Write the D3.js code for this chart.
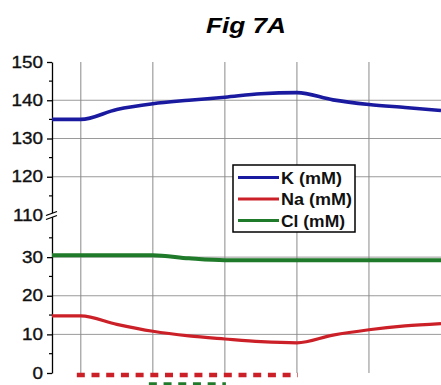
<!DOCTYPE html>
<html>
<head>
<meta charset="utf-8">
<script src="https://cdn.jsdelivr.net/npm/d3@7"></script>
<style>
  body { margin: 0; background: #fff; }
  svg { display: block; font-family: "Liberation Sans", Arial, sans-serif; }
</style>
</head>
<body>
<div id="chart"></div>
<script>
// time points (grid lines sit on 0..4)
const times = [-0.4, 0, 0.5, 1, 1.5, 2, 2.5, 3, 3.5, 4, 4.5, 5];
const kVals = [135, 135, 137.6, 139.1, 140, 140.8, 141.7, 142, 140.1, 138.9, 138.1, 137.3];
const naVals = [14.8, 14.8, 12.6, 10.8, 9.6, 8.8, 8.1, 7.8, 9.8, 11.2, 12.2, 12.8];
const clVals = [30.5, 30.5, 30.5, 30.5, 29.7, 29.2, 29.2, 29.2, 29.2, 29.2, 29.2, 29.2];

// dashed treatment bars under the curves
const naBar = { from: 0, to: 3, level: -0.5 };
const clBar = { from: 1, to: 2, level: -3 };

const majorTicks = [0, 10, 20, 30, 110, 120, 130, 140, 150];
const minorTicks = [5, 15, 25, 35, 115, 125, 135, 145];
const gridY = [10, 20, 30, 120, 130, 140];
const gridX = [0, 1, 2, 3, 4];

const series = [
  { name: "Cl (mM)", values: clVals, color: "#1f7a2a", width: 4, legendLen: 64 },
  { name: "Na (mM)", values: naVals, color: "#cc2028", width: 3.2, legendLen: 71 },
  { name: "K (mM)", values: kVals, color: "#1a1aa0", width: 3.6, legendLen: 61 },
];
const legendOrder = ["K (mM)", "Na (mM)", "Cl (mM)"];

const W = 441, H = 385;
const svg = d3.select("#chart").append("svg").attr("width", W).attr("height", H);

const x = d3.scaleLinear().domain([-0.4, 5]).range([52, 441]);
// broken axis: 0-40 at the bottom, 110-150 at the top
const y = d3.scaleLinear().domain([0, 40, 110, 150]).range([373, 218.5, 215, 62]);

// title
svg.append("text")
  .attr("x", 246).attr("y", 33)
  .attr("text-anchor", "middle")
  .attr("font-size", 22).attr("font-weight", "bold").attr("font-style", "italic")
  .attr("textLength", 80).attr("lengthAdjust", "spacingAndGlyphs")
  .text("Fig 7A");

// grid
svg.append("g").selectAll("line.h").data(gridY).join("line")
  .attr("x1", 52).attr("x2", W)
  .attr("y1", d => y(d)).attr("y2", d => y(d))
  .attr("stroke", "#9a9a9a").attr("stroke-width", 1);
svg.append("g").selectAll("line.v").data(gridX).join("line")
  .attr("x1", d => x(d)).attr("x2", d => x(d))
  .attr("y1", y(150)).attr("y2", y(0))
  .attr("stroke", "#8a8a8a").attr("stroke-width", 1);

// y axis
const yAxis = svg.append("g")
  .attr("transform", "translate(52,0)")
  .call(d3.axisLeft(y).tickValues(majorTicks).tickFormat(d3.format("d"))
    .tickSize(5).tickSizeOuter(0).tickPadding(4));
yAxis.select(".domain").attr("stroke", "#000").attr("stroke-width", 1.3);
yAxis.selectAll(".tick line").attr("stroke", "#000").attr("stroke-width", 1.3);
yAxis.selectAll(".tick text")
  .attr("font-size", 16).attr("fill", "#111")
  .attr("stroke", "#111").attr("stroke-width", 0.35)
  .style("font-family", "'Liberation Sans', Arial, sans-serif")
  .each(function () {
    const w = this.getComputedTextLength();
    d3.select(this).attr("textLength", w * 1.18).attr("lengthAdjust", "spacingAndGlyphs");
  });

svg.append("g").selectAll("line").data(minorTicks).join("line")
  .attr("x1", 49).attr("x2", 52)
  .attr("y1", d => y(d)).attr("y2", d => y(d))
  .attr("stroke", "#000").attr("stroke-width", 1.2);

// axis break mark
svg.append("polygon")
  .attr("points", "46,215.5 57,211.5 57,215.5 46,219.5")
  .attr("fill", "#fff");
svg.append("line").attr("x1", 46).attr("y1", 215.5).attr("x2", 57).attr("y2", 211.5)
  .attr("stroke", "#000").attr("stroke-width", 1.3);
svg.append("line").attr("x1", 46).attr("y1", 219.5).attr("x2", 57).attr("y2", 215.5)
  .attr("stroke", "#000").attr("stroke-width", 1.3);

// curves
const line = d3.line()
  .x((d, i) => x(times[i]))
  .y(d => y(d))
  .curve(d3.curveMonotoneX);

svg.append("g").selectAll("path").data(series).join("path")
  .attr("d", d => line(d.values))
  .attr("fill", "none")
  .attr("stroke", d => d.color)
  .attr("stroke-width", d => d.width);

// dashed bars
[[naBar, "#cc2028"], [clBar, "#1f7a2a"]].forEach(([b, c]) => {
  svg.append("line")
    .attr("x1", x(b.from) - 4).attr("x2", x(b.to) + 1)
    .attr("y1", y(b.level)).attr("y2", y(b.level))
    .attr("stroke", c).attr("stroke-width", 4.5)
    .attr("stroke-dasharray", "8,6.7");
});

// legend
const lg = svg.append("g");
lg.append("rect")
  .attr("x", 233).attr("y", 165).attr("width", 122).attr("height", 67)
  .attr("fill", "#fff").attr("stroke", "#000").attr("stroke-width", 1.5);
legendOrder.forEach((name, i) => {
  const s = series.find(d => d.name === name);
  const ly = 177.5 + i * 21.5;
  lg.append("line")
    .attr("x1", 238).attr("x2", 279).attr("y1", ly).attr("y2", ly)
    .attr("stroke", s.color).attr("stroke-width", 3);
  lg.append("text")
    .attr("x", 281).attr("y", ly + 6)
    .attr("font-size", 16.5).attr("font-weight", "bold").attr("fill", "#111")
    .attr("textLength", s.legendLen).attr("lengthAdjust", "spacingAndGlyphs")
    .text(name);
});
</script>
</body>
</html>
